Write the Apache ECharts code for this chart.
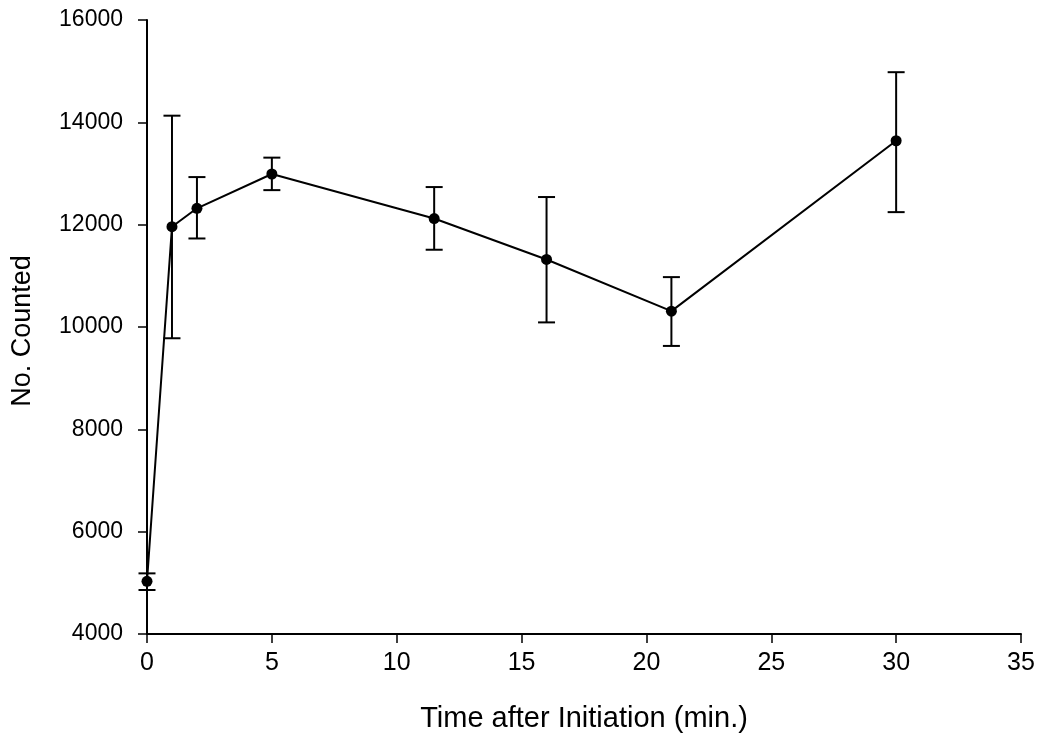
<!DOCTYPE html>
<html>
<head>
<meta charset="utf-8">
<script src="https://cdn.jsdelivr.net/npm/echarts@6/dist/echarts.min.js"></script>
<style>html,body{margin:0;padding:0;background:#fff}#c{width:1050px;height:744px}</style>
</head>
<body>
<div id="c"></div>
<script>
const times = [0, 1, 2, 5, 11.5, 16, 21, 30];
const counts = [5030, 11960, 12320, 12990, 12120, 11320, 10310, 13640];
const upperBounds = [5185, 14130, 12930, 13310, 12735, 12540, 10975, 14980];
const lowerBounds = [4860, 9780, 11730, 12675, 11510, 10090, 9630, 12245];

const lineData = times.map((t, i) => [t, counts[i]]);
const errData = times.map((t, i) => [t, lowerBounds[i], upperBounds[i]]);

const chart = echarts.init(document.getElementById('c'), null, {renderer: 'canvas'});
const font = 'Liberation Sans, Arial, sans-serif';
chart.setOption({
  animation: false,
  backgroundColor: '#fff',
  grid: {left: 147, right: 29, top: 20, bottom: 110, containLabel: false},
  xAxis: {
    type: 'value', min: 0, max: 35, interval: 5,
    name: 'Time after Initiation (min.)', nameLocation: 'middle', nameGap: 70,
    nameTextStyle: {fontFamily: font, fontSize: 29, color: '#000'},
    axisLine: {show: true, onZero: false, lineStyle: {color: '#000', width: 2}},
    axisTick: {show: true, length: 9, lineStyle: {color: '#000', width: 1.5}},
    axisLabel: {margin: 17, fontFamily: font, fontSize: 25, color: '#000', formatter: v => String(v)},
    splitLine: {show: false}
  },
  yAxis: {
    type: 'value', min: 4000, max: 16000, interval: 2000,
    name: 'No. Counted', nameLocation: 'middle', nameGap: 111,
    nameTextStyle: {fontFamily: font, fontSize: 27, color: '#000', padding: [0, 8, 0, 0]},
    axisLine: {show: true, onZero: false, lineStyle: {color: '#000', width: 2}},
    axisTick: {show: true, length: 9, lineStyle: {color: '#000', width: 1.5}},
    axisLabel: {margin: 24, fontFamily: font, fontSize: 23, color: '#000', formatter: v => String(v)},
    splitLine: {show: false}
  },
  series: [
    {
      type: 'custom',
      data: errData,
      z: 3,
      renderItem: function (params, api) {
        const x = api.value(0);
        const lo = api.coord([x, api.value(1)]);
        const hi = api.coord([x, api.value(2)]);
        const hw = 8.5;
        const style = {stroke: '#000', lineWidth: 2, fill: null};
        return {
          type: 'group',
          children: [
            {type: 'line', shape: {x1: lo[0], y1: lo[1], x2: hi[0], y2: hi[1]}, style: style},
            {type: 'line', shape: {x1: hi[0] - hw, y1: hi[1], x2: hi[0] + hw, y2: hi[1]}, style: style},
            {type: 'line', shape: {x1: lo[0] - hw, y1: lo[1], x2: lo[0] + hw, y2: lo[1]}, style: style}
          ]
        };
      }
    },
    {
      type: 'line',
      data: lineData,
      z: 4,
      symbol: 'circle',
      symbolSize: 11,
      lineStyle: {color: '#000', width: 2},
      itemStyle: {color: '#000'}
    }
  ]
});
</script>
</body>
</html>
